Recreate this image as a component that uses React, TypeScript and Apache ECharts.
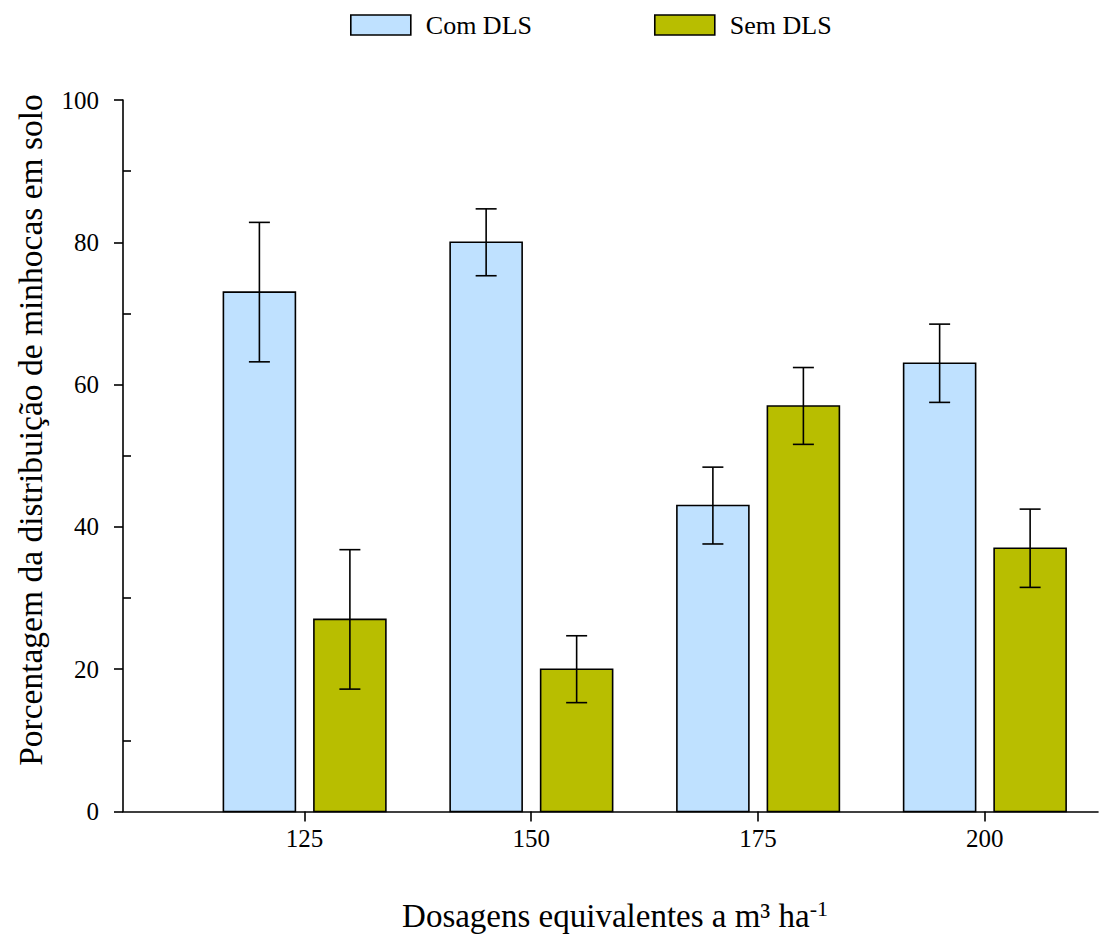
import React, { useEffect, useRef } from "react";
import * as echarts from "echarts";

const dosages = [125, 150, 175, 200];
const comValues = [73, 80, 43, 63];
const semValues = [27, 20, 57, 37];
const comErrors = [9.8, 4.7, 5.4, 5.5];
const semErrors = [9.8, 4.7, 5.4, 5.5];
const yTicks = [0, 20, 40, 60, 80, 100];
const yMinorTicks = [10, 30, 50, 70, 90];

const FONT = "'Liberation Serif', 'Times New Roman', serif";
const COM_COLOR = "#BFE1FF";
const SEM_COLOR = "#B8BE00";
const BAR_W = 72;
const COM_OFFSET = -45;
const SEM_OFFSET = 45.5;
const CAP = 10.5;

function makeRender(offset: number, color: string) {
  return (params: any, api: any) => {
    const x = api.value(0);
    const v = api.value(1);
    const e = api.value(2);
    const top = api.coord([x, v]);
    const base = api.coord([x, 0]);
    const hi = api.coord([x, v + e]);
    const lo = api.coord([x, v - e]);
    const cx = top[0] + offset;
    const lineStyle = { stroke: "#000", lineWidth: 1.6 };
    return {
      type: "group",
      children: [
        {
          type: "rect",
          shape: { x: cx - BAR_W / 2, y: top[1], width: BAR_W, height: base[1] - top[1] },
          style: { fill: color, stroke: "#000", lineWidth: 1.6 },
        },
        { type: "line", shape: { x1: cx, y1: hi[1], x2: cx, y2: lo[1] }, style: lineStyle },
        { type: "line", shape: { x1: cx - CAP, y1: hi[1], x2: cx + CAP, y2: hi[1] }, style: lineStyle },
        { type: "line", shape: { x1: cx - CAP, y1: lo[1], x2: cx + CAP, y2: lo[1] }, style: lineStyle },
      ],
    };
  };
}

export default function App() {
  const ref = useRef<HTMLDivElement>(null);
  useEffect(() => {
    const chart = echarts.init(ref.current!, null, { renderer: "svg" });
    chart.setOption({
      animation: false,
      backgroundColor: "#fff",
      textStyle: { fontFamily: FONT, color: "#000" },
      legend: {
        left: 345,
        top: 7,
        itemWidth: 60,
        itemHeight: 20,
        itemGap: 122,
        textStyle: { fontFamily: FONT, fontSize: 26, color: "#000", padding: [0, 0, 0, 10] },
        data: [
          { name: "Com DLS", icon: "rect", itemStyle: { color: COM_COLOR, borderColor: "#000", borderWidth: 1.6 } },
          { name: "Sem DLS", icon: "rect", itemStyle: { color: SEM_COLOR, borderColor: "#000", borderWidth: 1.6 } },
        ],
      },
      grid: { left: 123, right: 10, top: 100, bottom: 120, containLabel: false },
      xAxis: {
        type: "value",
        min: 105,
        max: 212.5,
        splitLine: { show: false },
        axisLine: { lineStyle: { color: "#000", width: 1.6 } },
        axisTick: { show: true, length: 10, lineStyle: { color: "#000", width: 1.6 }, customValues: dosages },
        axisLabel: { fontFamily: FONT, fontSize: 25, color: "#000", margin: 14, customValues: dosages },
        name: "Dosagens equivalentes a m³ ha{sup|-1}",
        nameLocation: "middle",
        nameGap: 86,
        nameTextStyle: {
          fontFamily: FONT,
          fontSize: 33,
          color: "#000",
          padding: [0, 0, 0, 9],
          rich: {
            sup: { fontFamily: FONT, fontSize: 22, color: "#000", verticalAlign: "top", padding: [0, 0, 14, 0] },
          },
        },
      },
      yAxis: [
        {
          type: "value",
          min: 0,
          max: 100,
          interval: 20,
          splitLine: { show: false },
          axisLine: { show: true, lineStyle: { color: "#000", width: 1.6 } },
          axisTick: { show: true, length: 9, lineStyle: { color: "#000", width: 1.6 } },
          axisLabel: { fontFamily: FONT, fontSize: 25, color: "#000", margin: 24, customValues: yTicks },
        },
        {
          type: "value",
          min: 0,
          max: 100,
          position: "left",
          splitLine: { show: false },
          axisLine: { show: false },
          axisLabel: { show: false },
          axisTick: { show: true, inside: true, length: 8, lineStyle: { color: "#000", width: 1.6 }, customValues: yMinorTicks },
        },
      ],
      graphic: [
        {
          type: "text",
          x: 30,
          y: 430,
          rotation: Math.PI / 2,
          style: {
            text: "Porcentagem da distribuição de minhocas em solo",
            font: `33.5px ${FONT}`,
            fill: "#000",
            textAlign: "center",
            textVerticalAlign: "middle",
          },
        },
      ],
      series: [
        {
          name: "Com DLS",
          type: "custom",
          itemStyle: { color: COM_COLOR },
          renderItem: makeRender(COM_OFFSET, COM_COLOR),
          data: dosages.map((d, i) => [d, comValues[i], comErrors[i]]),
          encode: { x: 0, y: 1 },
        },
        {
          name: "Sem DLS",
          type: "custom",
          itemStyle: { color: SEM_COLOR },
          renderItem: makeRender(SEM_OFFSET, SEM_COLOR),
          data: dosages.map((d, i) => [d, semValues[i], semErrors[i]]),
          encode: { x: 0, y: 1 },
        },
      ],
    });
    return () => chart.dispose();
  }, []);
  return <div ref={ref} style={{ position: "fixed", left: 0, top: 0, width: 1108, height: 937 }} />;
}
